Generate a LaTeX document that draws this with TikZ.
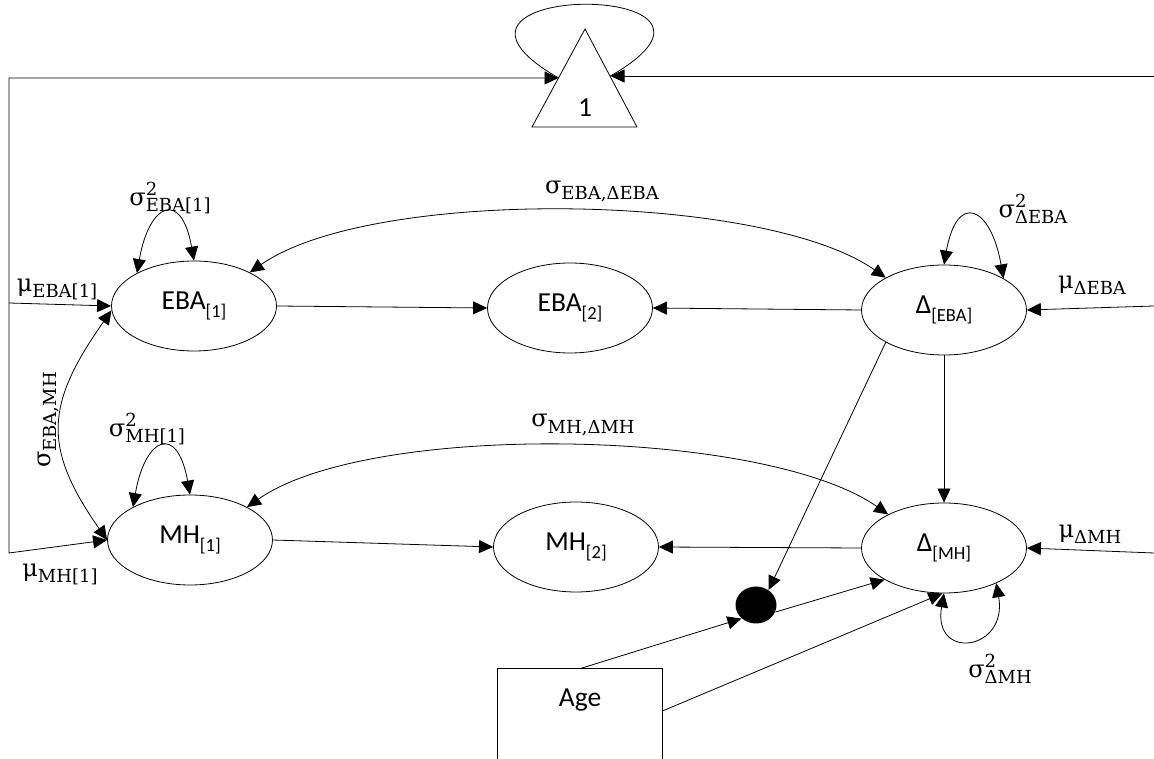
\documentclass[tikz,border=0pt]{standalone}
\usepackage{fontspec}
\usetikzlibrary{arrows.meta,shapes.geometric}
\newfontfamily\nodefont{Carlito}
\newfontfamily\labfont{DejaVu Serif}
\newcommand\nsb[1]{\raisebox{-7.5pt}{\fontsize{18.5}{18.5}\selectfont #1}}
\newcommand\lsb[1]{\raisebox{-6pt}{\fontsize{18}{18}\selectfont #1}}
\newcommand\lsp[1]{\raisebox{9.5pt}{\fontsize{18}{18}\selectfont #1}}
\newcommand\vlab[1]{σ\rlap{\lsp{2}}\lsb{#1}}
\newcommand\clab[1]{σ\lsb{#1}}
\newcommand\mlab[1]{μ\lsb{#1}}
\begin{document}
\begin{tikzpicture}[x=1pt,y=1pt,line width=0.8pt,
  var/.style={ellipse, draw, minimum width=165pt, minimum height=90pt, inner sep=0pt,
    font=\nodefont\fontsize{27.5}{32}\selectfont},
  lab/.style={inner sep=0pt, font=\labfont\fontsize{24}{28}\selectfont},
  txt/.style={inner sep=0pt, font=\nodefont\fontsize{27.5}{32}\selectfont},
  tip/.style={-{Triangle[length=14pt,width=13pt]}},
  tips/.style={{Triangle[length=14pt,width=13pt]}-{Triangle[length=14pt,width=13pt]}}]
\useasboundingbox (0,0) rectangle (1154,758);

% nodes
\node[var] (EBA1) at (194,452) {EBA\nsb{[1]}};
\node[var] (EBA2) at (570,450) {EBA\nsb{[2]}};
\node[var] (dEBA) at (944,448) {Δ\nsb{[EBA]}};
\node[var] (MH1) at (190,218) {MH\nsb{[1]}};
\node[var] (MH2) at (576,211) {MH\nsb{[2]}};
\node[var] (dMH) at (944,210) {Δ\nsb{[MH]}};
\node[ellipse, fill=black, minimum width=41pt, minimum height=37pt, inner sep=0pt] (dot) at (756,153) {};
\node[minimum width=164pt, minimum height=84pt, inner sep=0pt] (agebox) at (580,47) {};
\node[txt] (age) at (580,58) {Age};

% triangle (constant)
\coordinate (tA) at (585,729);
\coordinate (tL) at (532,631);
\coordinate (tR) at (637,631);
\draw (tL) -- (tA) -- (tR) -- cycle;
\node[txt] (one) at (585,650) {1};
\coordinate (triL) at (558.5,680);
\coordinate (triR) at (610.5,682);

% frame coordinates
\coordinate (lt) at (9,680);
\coordinate (lb) at (9,205);
\coordinate (lm) at (9,455);
\coordinate (rt) at (1154,682);
\coordinate (re) at (1154,452);
\coordinate (rm) at (1154,205);
\coordinate (bot) at (0,-5);

% means
\draw[tips] (triL) -- (lt) -- (lb) -- (MH1.west);
\draw[tip] (rt) -- (triR);
\draw (triL) .. controls (390,777) and (779,779) .. (triR);
\draw[tip] (lm) -- (EBA1.west);
\draw[tip] (re) -- (dEBA.east);
\draw[tip] (rm) -- (dMH.east);

% regressions
\draw[tip] (EBA1.east) -- (EBA2.west);
\draw[tip] (dEBA.west) -- (EBA2.east);
\draw[tip] (MH1.east) -- (MH2.west);
\draw[tip] (dMH.west) -- (MH2.east);
\draw[tip] (dEBA.south) -- (dMH.north);
\draw[tip] (dEBA.209) -- (dot.50);
\draw[tip] (dot.340) -- (dMH.208);
\draw[tip] (agebox.north) -- (dot.223);
\draw[tip] (agebox.east) -- (dMH.268);

% age box (open at the bottom edge)
\draw (agebox.north west |- bot) -- (agebox.north west) -- (agebox.north east) -- (agebox.north east |- bot);

% covariances
\draw[tips] (EBA1.31) to[out=35,in=145,looseness=0.6] (dEBA.151);
\draw[tips] (MH1.30) to[out=35,in=145,looseness=0.6] (dMH.149);
\draw[tips] (EBA1.183) to[out=235,in=125,looseness=1.27] (MH1.west);

% variances
\draw[tips] (EBA1.150) to[out=80,in=100,distance=72pt] (EBA1.90);
\draw[tips] (dEBA.90) to[out=80,in=100,distance=74pt] (dEBA.28);
\draw[tips] (MH1.150) to[out=80,in=100,distance=72pt] (MH1.90);
\draw[tips] (dMH.270) to[out=260,in=280,distance=69pt] (dMH.326);

% labels
\node[lab] (vEBA1) at (170,560) {\vlab{EBA[1]}};
\node[lab] (cEBA) at (602,566) {\clab{EBA,ΔEBA}};
\node[lab] (vdEBA) at (1033,549) {\vlab{ΔEBA}};
\node[lab] (mdEBA) at (1092,473) {\mlab{ΔEBA}};
\node[lab] (mEBA1) at (57,469) {\mlab{EBA[1]}};
\node[lab, rotate=90] (cEM) at (48,338) {\clab{EBA,MH}};
\node[lab] (vMH1) at (147,329) {\vlab{MH[1]}};
\node[lab] (cMH) at (583,333) {\clab{MH,ΔMH}};
\node[lab] (mMH1) at (60,184) {\mlab{MH[1]}};
\node[lab] (mdMH) at (1090,224) {\mlab{ΔMH}};
\node[lab] (vdMH) at (1000,89) {\vlab{ΔMH}};
\end{tikzpicture}
\end{document}
